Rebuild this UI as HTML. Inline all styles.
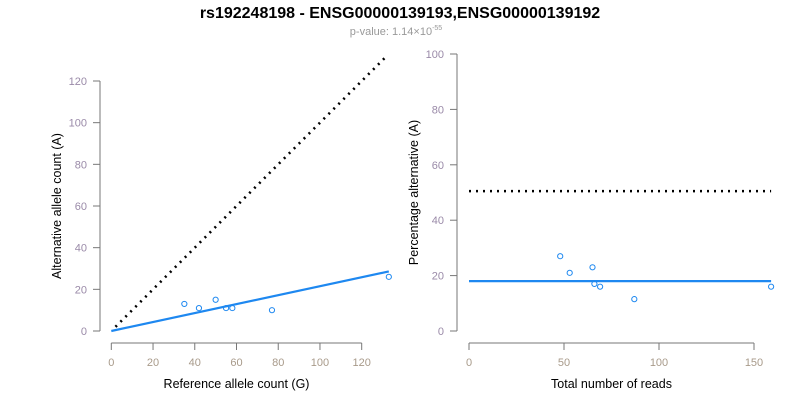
<!DOCTYPE html>
<html><head><meta charset="utf-8"><style>
body{margin:0;background:#fff;font-family:"Liberation Sans",sans-serif}
svg text{font-family:"Liberation Sans",sans-serif}
</style></head><body>
<svg id="c" width="800" height="400" xmlns="http://www.w3.org/2000/svg">
<text x="400" y="18" text-anchor="middle" font-size="16" font-weight="bold">rs192248198 - ENSG00000139193,ENSG00000139192</text>
<text x="396" y="35" text-anchor="middle" font-size="11" fill="#999">p-value: 1.14×10<tspan dy="-5" font-size="7">-55</tspan></text>
</svg>
<script>
const refCounts=[35,42,50,55,58,77,133];
const altCounts=[13,11,15,11,11,10,26];
const fitSlope=0.215;
const leftXTicks=[0,20,40,60,80,100,120];
const leftYTicks=[0,20,40,60,80,100,120];
const totalReads=[48,53,65,66,69,87,159];
const pctAlt=[27,21,23,17,16,11.5,16];
const pctFit=18;
const pctNull=50.5;
const rightXTicks=[0,50,100,150];
const rightYTicks=[0,20,40,60,80,100];

const svg=document.getElementById('c');
const NS='http://www.w3.org/2000/svg';
function mk(t,a,txt){const e=document.createElementNS(NS,t);for(const k in a)e.setAttribute(k,a[k]);if(txt!==undefined)e.textContent=txt;svg.appendChild(e);return e;}

function panel(p){
  const {x0,x1,xmin,xmax,y0,y1,ymin,ymax,yAxisX,xAxisY,xTicks,yTicks,xlab,ylab,pre}=p;
  const sx=v=>x0+(v-xmin)/(xmax-xmin)*(x1-x0);
  const sy=v=>y0-(v-ymin)/(ymax-ymin)*(y0-y1);
  let e=mk('line',{x1:sx(xTicks[0]),x2:sx(xTicks[xTicks.length-1]),y1:xAxisY,y2:xAxisY,stroke:'#777'});
  
  xTicks.forEach(t=>{
    let l=mk('line',{x1:sx(t),x2:sx(t),y1:xAxisY,y2:xAxisY+7,stroke:'#777'});
    
    let s=mk('text',{x:sx(t),y:xAxisY+23,'text-anchor':'middle','font-size':11,fill:'#a89a8a'},t);
    
  });
  e=mk('line',{x1:yAxisX,x2:yAxisX,y1:sy(yTicks[0]),y2:sy(yTicks[yTicks.length-1]),stroke:'#777'});
  
  yTicks.forEach(t=>{
    let l=mk('line',{x1:yAxisX-7,x2:yAxisX,y1:sy(t),y2:sy(t),stroke:'#777'});
    
    let s=mk('text',{x:yAxisX-13,y:sy(t)+4,'text-anchor':'end','font-size':11,fill:'#9a8aa8'},t);
    
  });
  e=mk('text',{x:(x0+x1)/2,y:xAxisY+45,'text-anchor':'middle','font-size':12.5},xlab);
  
  const cy=(y0+sy(yTicks[yTicks.length-1]))/2;
  e=mk('text',{x:yAxisX-39,y:cy,'text-anchor':'middle','font-size':12.5,transform:`rotate(-90 ${yAxisX-39} ${cy})`},ylab);
  
  return {sx,sy};
}

let L=panel({x0:111.3,x1:361.7,xmin:0,xmax:120,y0:331,y1:81,ymin:0,ymax:120,yAxisX:100,xAxisY:343,xTicks:leftXTicks,yTicks:leftYTicks,xlab:'Reference allele count (G)',ylab:'Alternative allele count (A)',pre:'left'});
let e=mk('line',{x1:L.sx(2),y1:L.sy(2),x2:L.sx(132),y2:L.sy(132),stroke:'#000','stroke-width':2.6,'stroke-dasharray':'2,5'});

e=mk('line',{x1:L.sx(0),y1:L.sy(0),x2:L.sx(133),y2:L.sy(133*fitSlope),stroke:'#1e88f0','stroke-width':2.2});

refCounts.forEach((r,i)=>{
  const c=mk('circle',{cx:L.sx(r),cy:L.sy(altCounts[i]),r:2.6,fill:'none',stroke:'#1e88f0','stroke-width':1});
  
});
let R=panel({x0:469,x1:754,xmin:0,xmax:150,y0:331,y1:54,ymin:0,ymax:100,yAxisX:457,xAxisY:343,xTicks:rightXTicks,yTicks:rightYTicks,xlab:'Total number of reads',ylab:'Percentage alternative (A)',pre:'right'});
e=mk('line',{x1:R.sx(0),y1:R.sy(pctNull),x2:R.sx(159),y2:R.sy(pctNull),stroke:'#000','stroke-width':2.6,'stroke-dasharray':'2,5'});

e=mk('line',{x1:R.sx(0),y1:R.sy(pctFit),x2:R.sx(159),y2:R.sy(pctFit),stroke:'#1e88f0','stroke-width':2.2});

totalReads.forEach((r,i)=>{
  const c=mk('circle',{cx:R.sx(r),cy:R.sy(pctAlt[i]),r:2.6,fill:'none',stroke:'#1e88f0','stroke-width':1});
  
});
</script>
</body></html>
